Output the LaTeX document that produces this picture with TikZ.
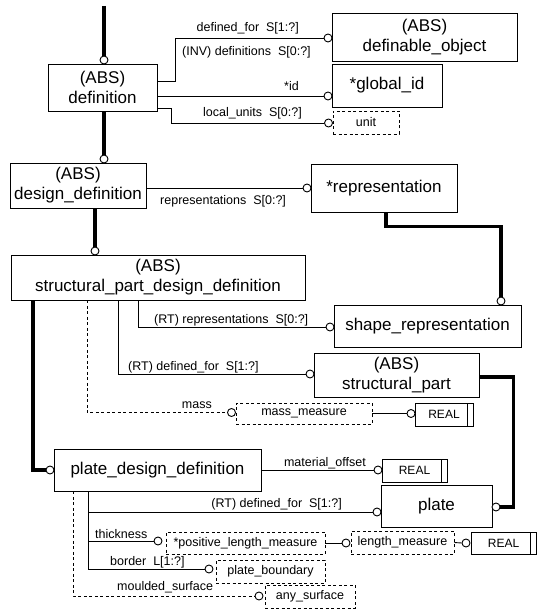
\documentclass[tikz,border=0pt]{standalone}
\usepackage{fontspec}
\setmainfont{Liberation Sans}
\newcommand\entfont{\fontsize{17}{20}\selectfont}
\newcommand\lblfont{\fontsize{12.5}{14}\selectfont}
\newcommand\realfont{\fontsize{12}{14}\selectfont}
\begin{document}
\begin{tikzpicture}[x=1pt,y=-1pt,
  ent/.style={draw, line width=0.9pt, inner sep=0pt, align=center, font=\entfont},
  dent/.style={draw, line width=0.9pt, dash pattern=on 3pt off 2.5pt, inner sep=0pt, font=\lblfont},
  real/.style={draw, line width=0.9pt, inner sep=0pt, font=\realfont,
    path picture={\draw[line width=0.9pt] ([xshift=-6pt]path picture bounding box.north east) -- ([xshift=-6pt]path picture bounding box.south east);}},
  cir/.style={circle, draw, fill=white, line width=0.9pt, minimum size=8pt, inner sep=0pt},
  rel/.style={line width=0.9pt},
  orel/.style={line width=0.9pt, dash pattern=on 3pt off 2.5pt},
  sub/.style={line width=3.2pt},
  lbl/.style={inner sep=0pt, font=\lblfont}]
\useasboundingbox (0,0) rectangle (540,609);

% entities
\node[ent, minimum width=109pt, minimum height=47pt] (def) at (102.5,87.5) {(ABS)\\definition};
\node[ent, minimum width=185pt, minimum height=48pt] (defobj) at (424.5,37) {(ABS)\\definable\_object};
\node[ent, minimum width=110pt, minimum height=43pt] (gid) at (387,85.5) {*global\_id};
\node[dent, minimum width=66pt, minimum height=23pt] (unit) at (366,122.5) {unit};
\node[ent, minimum width=136pt, minimum height=45pt] (dd) at (78,185.5) {(ABS)\\design\_definition};
\node[ent, minimum width=146pt, minimum height=48pt] (rep) at (384,188) {*representation};
\node[ent, minimum width=294pt, minimum height=45pt] (spdd) at (158,277.5) {(ABS)\\structural\_part\_design\_definition};
\node[ent, minimum width=187pt, minimum height=42pt] (shrep) at (427.5,326) {shape\_representation};
\node[ent, minimum width=165pt, minimum height=44pt] (sp) at (396.5,375) {(ABS)\\structural\_part};
\node[dent, minimum width=136pt, minimum height=21pt] (mm) at (304,413.5) {mass\_measure};
\node[real, minimum width=58pt, minimum height=23pt] (real1) at (444,414.5) {REAL\hspace{6pt}};
\node[ent, minimum width=207pt, minimum height=42pt] (pdd) at (157.5,470) {plate\_design\_definition};
\node[real, minimum width=65pt, minimum height=23pt] (real2) at (414.5,470.5) {REAL\hspace{6pt}};
\node[ent, minimum width=111pt, minimum height=42pt] (plate) at (436.5,506.5) {plate};
\node[dent, minimum width=159pt, minimum height=22pt] (plm) at (245.5,543) {*positive\_length\_measure};
\node[dent, minimum width=103pt, minimum height=23pt] (lm) at (402.5,542.5) {length\_measure};
\node[real, minimum width=65pt, minimum height=22pt] (real3) at (503.5,543) {REAL\hspace{6pt}};
\node[dent, minimum width=109pt, minimum height=23pt] (pb) at (270.5,571.5) {plate\_boundary};
\node[dent, minimum width=90pt, minimum height=23pt] (as) at (310,596.5) {any\_surface};

% circles
\coordinate (topend) at (104,6);
\node[cir] (cdef) at (104,60) {};
\node[cir] (cdd) at (104,159) {};
\node[cir] (cspdd) at (95,251) {};
\node[cir] (cpdd) at (50,470) {};
\node[cir] (cshrep) at (501,301) {};
\node[cir] (cplate) at (496,507) {};
\node[cir] (cdefobj) at (328,38) {};
\node[cir] (cgid) at (328,96) {};
\node[cir] (cunit) at (328.5,123) {};
\node[cir] (crep) at (307,188) {};
\node[cir] (cshrep2) at (330,327) {};
\node[cir] (csp) at (310,374) {};
\node[cir] (cmm) at (231.5,412.5) {};
\node[cir] (creal1) at (411,413.5) {};
\node[cir] (creal2) at (378,470) {};
\node[cir] (cplate2) at (377,512) {};
\node[cir] (cplm) at (158,541) {};
\node[cir] (clm) at (346,543) {};
\node[cir] (creal3) at (466,543) {};
\node[cir] (cpb) at (209,569) {};
\node[cir] (cas) at (259,596) {};

% subtype (thick) lines
\draw[sub] (topend) -- (cdef.north);
\draw[sub] ([xshift=1.5pt]def.south) -- (cdd.north);
\draw[sub] ([xshift=17pt]dd.south) -- (cspdd.north);
\draw[sub] ([xshift=-125pt]spdd.south) |- (cpdd.west);
\draw[sub] ([xshift=2pt]rep.south) -- ++(0,14) -| (cshrep.north);
\draw[sub] ([yshift=-2pt]sp.east) -- ++(34,0) |- (cplate.east);

% attribute lines
\draw[rel] ([yshift=6.5pt]def.east) -- ++(18,0) |- (cdefobj.west);
\draw[rel] ([yshift=-8.5pt]def.east) -- (cgid.west);
\draw[rel] ([yshift=-20.5pt]def.east) -- ++(14,0) |- (cunit.west);
\draw[rel] ([yshift=-2.5pt]dd.east) -- (crep.west);
\draw[rel] ([xshift=-20pt]spdd.south) |- (cshrep2.west);
\draw[rel] ([xshift=-40pt]spdd.south) |- (csp.west);
\draw[orel] ([xshift=-71pt]spdd.south) |- (cmm.west);
\draw[rel] (mm.east) -- (creal1.west);
\draw[rel] (pdd.east) -- (creal2.west);
\draw[rel] ([xshift=-69.5pt]pdd.south) |- (cplate2.west);
\draw[rel] ([xshift=-69.5pt]pdd.south) |- (cplm.west);
\draw[rel] ([xshift=-69.5pt]pdd.south) |- (cpb.west);
\draw[orel] ([xshift=-84.5pt]pdd.south) |- (cas.west);
\draw[rel] (plm.east) -- (clm.west);
\draw[rel] (lm.east) -- (creal3.west);

% labels
\node[lbl, anchor=base east] (l1) at (299,32) {defined\_for~~S[1:?]};
\node[lbl, anchor=base west] (l2) at (182,56) {(INV) definitions~~S[0:?]};
\node[lbl, anchor=base east] (l3) at (299,91) {*id};
\node[lbl, anchor=base east] (l4) at (302,117) {local\_units~~S[0:?]};
\node[lbl, anchor=base west] (l5) at (160,205) {representations~~S[0:?]};
\node[lbl, anchor=base west] (l6) at (154,323) {(RT) representations~~S[0:?]};
\node[lbl, anchor=base west] (l7) at (128,370) {(RT) defined\_for~~S[1:?]};
\node[lbl, anchor=base east] (l8) at (212,408) {mass};
\node[lbl, anchor=base east] (l9) at (366,466) {material\_offset};
\node[lbl, anchor=base east] (l10) at (342,507) {(RT) defined\_for~~S[1:?]};
\node[lbl, anchor=base west] (l11) at (95,538) {thickness};
\node[lbl, anchor=base west] (l12) at (110,565) {border~~L[1:?]};
\node[lbl, anchor=base west] (l13) at (117,590) {moulded\_surface};
\end{tikzpicture}
\end{document}
